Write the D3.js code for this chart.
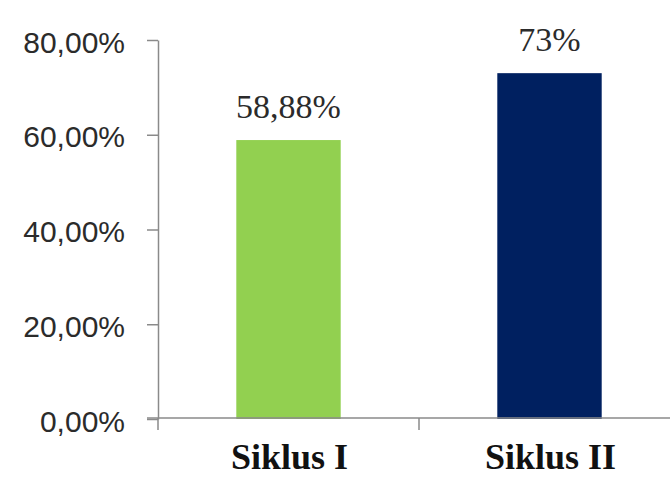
<!DOCTYPE html>
<html>
<head>
<meta charset="utf-8">
<script src="https://cdn.jsdelivr.net/npm/d3@7"></script>
<style>
  body { margin: 0; background: #fff; }
  .y-axis text { font-family: "Liberation Sans", Arial, sans-serif; font-size: 30px; fill: #2b2b2b; }
  .bar-label { font-family: "Liberation Serif", "Times New Roman", serif; font-size: 34px; fill: #2b2b2b; }
  .cat-label { font-family: "Liberation Serif", "Times New Roman", serif; font-size: 36px; font-weight: bold; fill: #111; }
</style>
</head>
<body>
<svg id="chart"></svg>
<script>
// data
const categories = ['Siklus I', 'Siklus II'];
const values = [58.88, 73];
const valueLabels = ['58,88%', '73%'];
const barColors = ['#92D050', '#002060'];
const yTicks = [0, 20, 40, 60, 80];

class BarChart {

    constructor(_config) {
        this.config = {
            parentElement: _config.parentElement,
            containerWidth: _config.containerWidth || 670,
            containerHeight: _config.containerHeight || 477,
            margin: {top: 40, right: -10, bottom: 58, left: 158}
        }
        this.initVis();
    }

    initVis() {
        let vis = this;

        vis.width = vis.config.containerWidth - vis.config.margin.left - vis.config.margin.right;
        vis.height = vis.config.containerHeight - vis.config.margin.top - vis.config.margin.bottom;

        vis.svg = d3.select(vis.config.parentElement)
            .attr('width', vis.config.containerWidth)
            .attr('height', vis.config.containerHeight);

        vis.chart = vis.svg.append('g')
            .attr('transform', `translate(${vis.config.margin.left}, ${vis.config.margin.top})`);

        vis.xScale = d3.scaleBand()
            .domain(categories)
            .range([0, vis.width])
            .paddingInner(0.6)
            .paddingOuter(0.3);

        vis.yScale = d3.scaleLinear()
            .domain([0, 80])
            .range([vis.height, 0]);

        vis.renderVis();
    }

    renderVis() {
        let vis = this;
        const axisColor = '#8a8a8a';

        // y axis
        vis.yAxis = d3.axisLeft(vis.yScale)
            .tickValues(yTicks)
            .tickSize(11)
            .tickPadding(22)
            .tickSizeOuter(0)
            .tickFormat(d => d3.format('.2f')(d).replace('.', ',') + '%');

        vis.yAxisG = vis.chart.append('g')
            .attr('class', 'axis y-axis')
            .call(vis.yAxis);
        vis.yAxisG.selectAll('line, path').attr('stroke', axisColor).attr('stroke-width', 1.5);
        vis.yAxisG.selectAll('text').attr('dy', '0.4em');

        // bars
        vis.chart.selectAll('.bar')
            .data(values)
            .join('rect')
            .attr('class', 'bar')
            .attr('x', (d, i) => vis.xScale(categories[i]))
            .attr('y', d => vis.yScale(d))
            .attr('width', vis.xScale.bandwidth())
            .attr('height', d => vis.height - vis.yScale(d))
            .attr('fill', (d, i) => barColors[i]);

        // value labels above bars
        vis.chart.selectAll('.bar-label')
            .data(values)
            .join('text')
            .attr('class', 'bar-label')
            .attr('text-anchor', 'middle')
            .attr('x', (d, i) => vis.xScale(categories[i]) + vis.xScale.bandwidth() / 2)
            .attr('y', d => vis.yScale(d) - 22)
            .text((d, i) => valueLabels[i]);

        // x axis line, ticks sit between the categories like in excel
        const y0 = vis.yScale(0) - 1;
        vis.chart.append('line')
            .attr('x1', -11).attr('x2', vis.width)
            .attr('y1', y0).attr('y2', y0)
            .attr('stroke', axisColor).attr('stroke-width', 1.5);

        const bounds = d3.range(categories.length).map(i => vis.xScale.range()[0] + i * vis.xScale.step());
        vis.chart.selectAll('.x-tick')
            .data(bounds)
            .join('line')
            .attr('class', 'x-tick')
            .attr('x1', d => d).attr('x2', d => d)
            .attr('y1', y0).attr('y2', y0 + 12)
            .attr('stroke', axisColor).attr('stroke-width', 1.5);

        vis.chart.selectAll('.cat-label')
            .data(categories)
            .join('text')
            .attr('class', 'cat-label')
            .attr('text-anchor', 'middle')
            .attr('x', d => vis.xScale(d) + vis.xScale.bandwidth() / 2 + 1)
            .attr('y', vis.height + 50)
            .text(d => d);
    }
}

new BarChart({parentElement: '#chart'});
</script>
</body>
</html>
